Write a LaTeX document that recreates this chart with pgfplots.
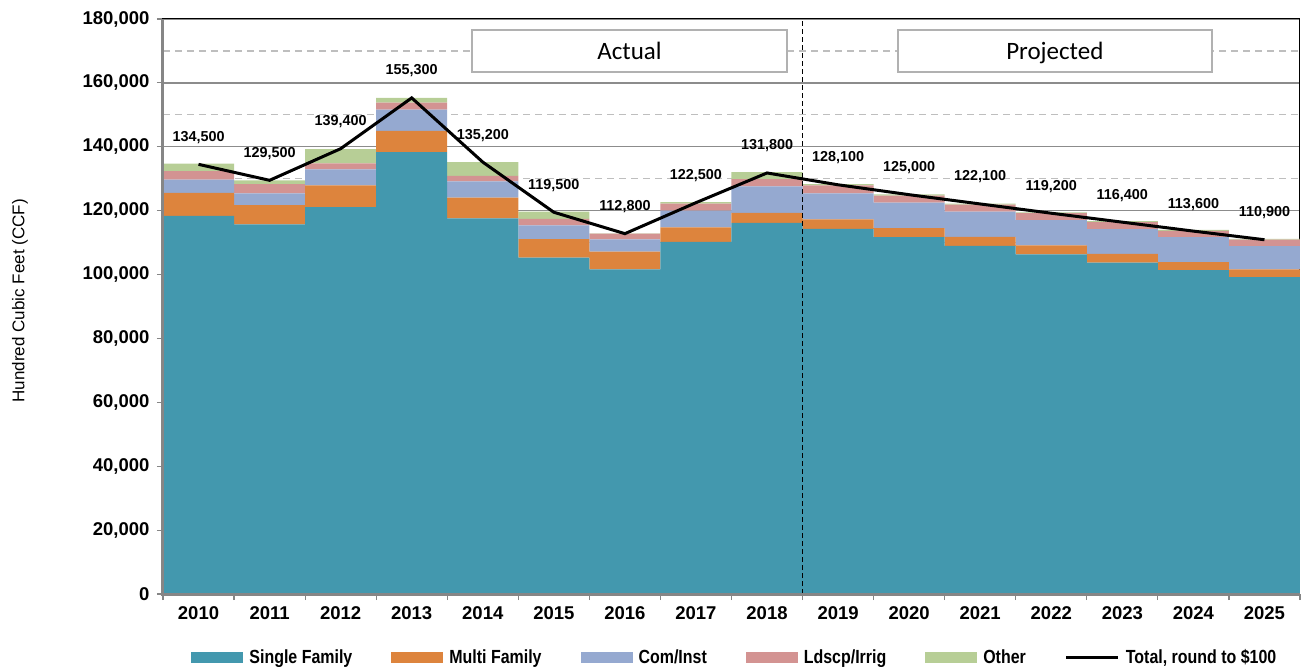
\documentclass[border=0pt]{standalone}
\usepackage{pgfplots}
\pgfplotsset{compat=1.18}
\usepackage{pgfplotstable}
\usepackage{fontspec}
\setmainfont{Liberation Sans}
\newfontfamily\carlito{Carlito}
\newfontfamily\cond[FakeStretch=0.84]{Liberation Sans}
\definecolor{cSF}{RGB}{67,152,174}
\definecolor{cMF}{RGB}{221,132,61}
\definecolor{cCI}{RGB}{149,169,208}
\definecolor{cLI}{RGB}{211,147,146}
\definecolor{cOT}{RGB}{183,206,150}
\definecolor{axgray}{RGB}{134,134,134}
\definecolor{gridsolid}{RGB}{140,140,140}
\definecolor{griddash}{RGB}{190,190,190}

\pgfplotstableread{
x sf mf ci li ot tot
0 118400 7200 4100 2700 2300 134500
1 115700 6000 3700 2900 1200 129500
2 121100 6800 5000 1900 4500 139400
3 138300 6700 6600 2200 1500 155300
4 117600 6500 5100 1700 4300 135200
5 105300 5800 4300 2000 2300 119500
6 101600 5600 3800 1800 100 112800
7 110200 4600 5200 2200 500 122500
8 116200 3100 8300 2300 2200 131800
9 114300 3000 8100 2500 400 128100
10 111700 2800 8000 2200 400 125000
11 109000 2800 7900 2200 300 122100
12 106300 2800 7900 2200 300 119200
13 103700 2800 7700 2200 300 116400
14 101400 2500 7800 2000 300 113600
15 99200 2400 7300 2000 300 110900
}\data

\pgfplotsset{
  sq/.style={legend image code/.code={\fill[#1] (0pt,-5.5pt) rectangle (52pt,5.5pt);}},
  common/.style={at={(0,0)}, anchor=south west,
    scale only axis, width=1137pt, height=575pt,
    xmin=-0.5, xmax=15.5, ymin=0, ymax=180000},
}

\begin{document}
\begin{tikzpicture}
\path[use as bounding box] (-163pt,-73pt) rectangle (1141pt,594pt);
\begin{axis}[
  common,
  ybar stacked, bar width=1,
  xtick={0,...,15},
  xticklabels={2010,2011,2012,2013,2014,2015,2016,2017,2018,2019,2020,2021,2022,2023,2024,2025},
  minor xtick={-0.5,0.5,...,15.5},
  major x tick style={draw=none},
  minor x tick style={axgray, line width=1.2pt},
  ytick={0,20000,...,180000},
  minor y tick num=1,
  minor y tick style={draw=none},
  major y tick style={axgray, line width=1.2pt},
  major tick length=6pt, minor tick length=6pt,
  tick align=outside, tick pos=left,
  scaled y ticks=false,
  /pgf/number format/.cd, 1000 sep={,}, fixed, precision=0, assume math mode=true,
  /pgfplots/.cd,
  ymajorgrids, yminorgrids,
  major grid style={gridsolid, line width=1.3pt},
  minor grid style={griddash, line width=1.3pt, dash pattern=on 7pt off 5pt},
  axis line style={black, line width=1pt},
  y tick label style={font=\bfseries\fontsize{18.5}{20}\selectfont, xshift=-4pt},
  x tick label style={font=\bfseries\fontsize{18.5}{20}\selectfont, yshift=-3pt},
  ylabel={Hundred Cubic Feet (CCF)},
  ylabel style={font=\fontsize{17}{19}\selectfont, at={(axis description cs:-0.1258,0.51)}, anchor=center},
  legend style={at={(axis description cs:0.503,-0.1096)}, anchor=center, draw=none,
    font=\cond\bfseries\fontsize{19}{21}\selectfont, legend columns=6,
    /tikz/every even column/.append style={column sep=37pt},
    /tikz/every odd column/.append style={column sep=4pt}},
  legend cell align=left,
]
\addplot+[fill=cSF, draw=none, sq={cSF}] table[x=x,y=sf]{\data};
\addplot+[fill=cMF, draw=none, sq={cMF}] table[x=x,y=mf]{\data};
\addplot+[fill=cCI, draw=none, sq={cCI}] table[x=x,y=ci]{\data};
\addplot+[fill=cLI, draw=none, sq={cLI}] table[x=x,y=li]{\data};
\addplot+[fill=cOT, draw=none, sq={cOT}] table[x=x,y=ot]{\data};
\addlegendimage{legend image code/.code={\draw[black, line width=3pt] (0pt,0pt) -- (52pt,0pt);}}
\legend{Single Family, Multi Family, Com/Inst, Ldscp/Irrig, Other, {Total, round to \$100}}
\end{axis}
\begin{axis}[
  common, hide axis, clip=false,
]
\addplot[black, line width=3pt, sharp plot, no marks,
  nodes near coords={\pgfmathprintnumber[fixed,precision=0,1000 sep={,},assume math mode=true]{\pgfplotspointmeta}},
  nodes near coords align={center},
  every node near coord/.append style={font=\bfseries\fontsize{14.4}{16}\selectfont, yshift=27pt, black}
] table[x=x,y=tot]{\data};
\draw[black, line width=1.1pt, dash pattern=on 5pt off 3pt] (axis cs:8.5,0) -- (axis cs:8.5,180000);
\draw[griddash!80!gray, line width=1.5pt, fill=white] (axis cs:3.85,176550) rectangle (axis cs:8.28,163400);
\node[font=\carlito\fontsize{25}{28}\selectfont, text=black] at (axis cs:6.065,170000) {Actual};
\draw[griddash!80!gray, line width=1.5pt, fill=white] (axis cs:9.84,176550) rectangle (axis cs:14.26,163400);
\node[font=\carlito\fontsize{25}{28}\selectfont, text=black, text depth=0pt, anchor=base] at ([yshift=-8.5pt]axis cs:12.05,170000) {Projected};
\draw[axgray, line width=3pt] (rel axis cs:0,1) -- (rel axis cs:0,0) -- (rel axis cs:1,0);
\end{axis}
\end{tikzpicture}
\end{document}
